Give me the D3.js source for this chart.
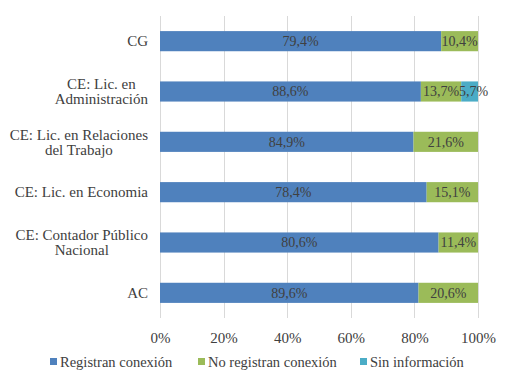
<!DOCTYPE html>
<meta charset="utf-8">
<style>
body { margin:0; background:#fff; }
</style>
<body>
<div id="chart"></div>
<script src="https://d3js.org/d3.v7.min.js"></script>
<script>
var categories = ["CG", "CE: Lic. en|Administración", "CE:  Lic. en Relaciones|del Trabajo",
                  "CE: Lic. en Economia", "CE: Contador Público|Nacional", "AC"];
var seriesNames = ["Registran conexión", "No registran conexión", "Sin información"];
var registran = [79.4, 88.6, 84.9, 78.4, 80.6, 89.6];
var noRegistran = [10.4, 13.7, 21.6, 15.1, 11.4, 20.6];
var sinInfo = [0, 5.7, 0, 0, 0, 0];
var ticks = [0, 0.2, 0.4, 0.6, 0.8, 1];
var colors = ["#4f81bd", "#9bbb59", "#4bacc6"];

var width = 509, height = 389;
var plotLeft = 160, plotRight = 478, plotTop = 16, plotBottom = 318;
var serif = "Liberation Serif, Times New Roman, Times, DejaVu Serif, serif";
var textColor = "#404040";

var svg = d3.select("#chart").append("svg")
    .attr("width", width)
    .attr("height", height)
    .style("font-family", serif);

var rows = categories.map(function(c, i) {
  return {cat: c, s0: registran[i], s1: noRegistran[i], s2: sinInfo[i]};
});

var stack = d3.stack().keys(["s0", "s1", "s2"]).offset(d3.stackOffsetExpand);
var layers = stack(rows);

var x = d3.scaleLinear().domain([0, 1]).range([plotLeft, plotRight]);
var y = d3.scaleBand().domain(categories).range([plotTop, plotBottom]).paddingInner(0.6).paddingOuter(0.3);

var fmt = function(v) { return d3.format(".1f")(v).replace(".", ",") + "%"; };

// gridlines
svg.append("g").selectAll("line")
  .data(ticks)
  .enter().append("line")
    .attr("x1", function(d) { return Math.round(x(d)) + 0.5; })
    .attr("x2", function(d) { return Math.round(x(d)) + 0.5; })
    .attr("y1", plotTop)
    .attr("y2", plotBottom)
    .attr("stroke", "#d9d9d9")
    .attr("stroke-width", 1);

// bars
var g = svg.append("g").selectAll("g")
  .data(layers)
  .enter().append("g")
    .attr("fill", function(d, i) { return colors[i]; });

g.selectAll("rect")
  .data(function(d) { return d; })
  .enter().append("rect")
    .attr("x", function(d) { return x(d[0]); })
    .attr("width", function(d) { return x(d[1]) - x(d[0]); })
    .attr("y", function(d) { return y(d.data.cat); })
    .attr("height", y.bandwidth());

// data labels
layers.forEach(function(layer, li) {
  svg.append("g").selectAll("text")
    .data(layer.filter(function(d) { return d.data[layer.key] > 0; }))
    .enter().append("text")
      .attr("x", function(d) { return (x(d[0]) + x(d[1])) / 2 + (li === 2 ? 4 : 0); })
      .attr("y", function(d) { return y(d.data.cat) + y.bandwidth() / 2; })
      .attr("dy", "0.35em")
      .attr("text-anchor", "middle")
      .attr("font-size", 14)
      .attr("fill", textColor)
      .text(function(d) { return fmt(d.data[layer.key]); });
});

// category labels: block right-aligned, lines centred within the block
var lab = svg.append("g").selectAll("text")
  .data(categories)
  .enter().append("text")
    .attr("y", function(d) { return y(d) + y.bandwidth() / 2; })
    .attr("text-anchor", "middle")
    .attr("font-size", 15)
    .attr("fill", textColor);

lab.each(function(d) {
  var lines = d.split("|");
  var t = d3.select(this);
  var spans = lines.map(function(l, i) {
    return t.append("tspan")
      .attr("dy", i === 0 ? (0.35 - (lines.length - 1) * 0.5) + "em" : "1em")
      .text(l);
  });
  var maxW = d3.max(spans, function(s) { return s.node().getComputedTextLength(); });
  spans.forEach(function(s) { s.attr("x", 148 - maxW / 2); });
});

// x axis
var axis = svg.append("g")
  .attr("transform", "translate(0," + plotBottom + ")")
  .call(d3.axisBottom(x).tickValues(ticks).tickSize(0).tickPadding(14)
    .tickFormat(d3.format(".0%")));
axis.attr("font-family", null).attr("font-size", 15);
axis.select(".domain").remove();
axis.selectAll("text").attr("fill", textColor);

// legend
var legendX = [50, 198, 360];
var leg = svg.append("g").selectAll("g")
  .data(seriesNames)
  .enter().append("g")
    .attr("transform", function(d, i) { return "translate(" + legendX[i] + ",362)"; });
leg.append("rect")
  .attr("x", 0).attr("y", -4).attr("width", 7).attr("height", 7)
  .attr("fill", function(d, i) { return colors[i]; });
leg.append("text")
  .attr("x", 10).attr("dy", "0.35em")
  .attr("font-size", 14.5)
  .attr("fill", textColor)
  .text(function(d) { return d; });
</script>
</body>
